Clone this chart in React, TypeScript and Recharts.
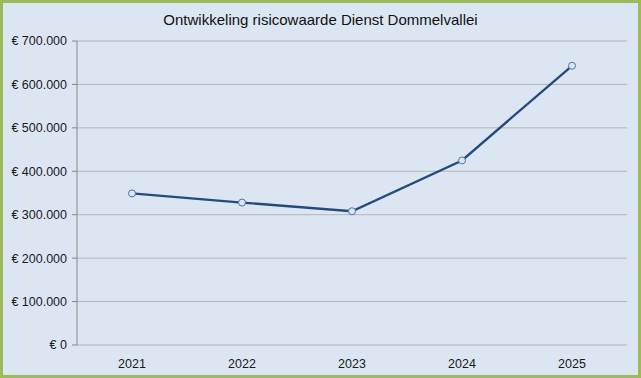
import { LineChart, Line, XAxis, YAxis, CartesianGrid } from "recharts";

const years = ["2021", "2022", "2023", "2024", "2025"];
const risicowaarde = [349000, 328000, 308000, 425000, 643000];
const yTicks = [0, 100000, 200000, 300000, 400000, 500000, 600000, 700000];
const boundaryTicks = [0.5, 1.5, 2.5, 3.5, 4.5, 5.5];
const centerTicks = [1, 2, 3, 4, 5];

const euro = (v: number): string =>
  v === 0 ? "€ 0" : "€ " + String(v).replace(/\B(?=(\d{3})+(?!\d))/g, ".");

const data = years.map((year, i) => ({ x: i + 1, year, value: risicowaarde[i] }));

const tickFont = { fontFamily: "'Liberation Sans', Arial, sans-serif", fontSize: 12.5, fill: "#1a1a1a" };

export default function App() {
  return (
    <div
      style={{
        position: "absolute",
        left: 0,
        top: 0,
        width: 641,
        height: 378,
        boxSizing: "border-box",
        border: "3px solid #9bbb59",
        background: "#dce6f2",
      }}
    >
      <div
        style={{
          position: "absolute",
          left: 0,
          right: 0,
          top: 8,
          textAlign: "center",
          fontFamily: "'Liberation Sans', Arial, sans-serif",
          fontSize: 15,
          color: "#111",
        }}
      >
        Ontwikkeling risicowaarde Dienst Dommelvallei
      </div>
      <LineChart
        width={635}
        height={372}
        data={data}
        margin={{ top: 38, right: 11, left: 0, bottom: 8 }}
      >
        <CartesianGrid vertical={false} stroke="#b4b4b4" strokeWidth={1} />
        <XAxis
          xAxisId="labels"
          dataKey="x"
          type="number"
          domain={[0.5, 5.5]}
          ticks={centerTicks}
          tickFormatter={(v: number) => years[v - 1]}
          tickLine={false}
          axisLine={false}
          tick={tickFont}
          tickMargin={8}
          height={22}
        />
        <XAxis
          xAxisId="bounds"
          dataKey="x"
          type="number"
          domain={[0.5, 5.5]}
          ticks={boundaryTicks}
          tick={false}
          tickSize={5}
          stroke="#868686"
          height={0}
        />
        <YAxis
          domain={[0, 700000]}
          ticks={yTicks}
          tickFormatter={euro}
          width={74}
          tickSize={5}
          tickMargin={5}
          stroke="#868686"
          tick={tickFont}
          interval={0}
        />
        <Line
          xAxisId="labels"
          dataKey="value"
          stroke="#254a7c"
          strokeWidth={2.3}
          dot={{ r: 3.5, fill: "#dce6f2", stroke: "#4f73a3", strokeWidth: 1 }}
          isAnimationActive={false}
        />
      </LineChart>
    </div>
  );
}
